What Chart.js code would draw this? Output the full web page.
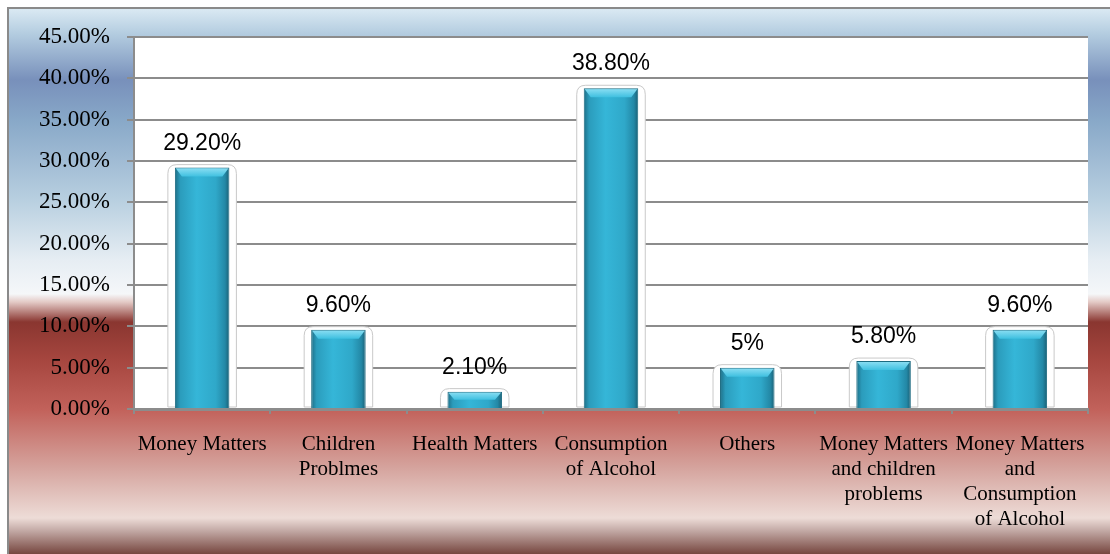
<!DOCTYPE html>
<html>
<head>
<meta charset="utf-8">
<script src="https://cdn.jsdelivr.net/npm/chart.js@4.4.1/dist/chart.umd.min.js"></script>
<style>
html,body{margin:0;padding:0;background:#fff;}
#wrap{width:1110px;height:554px;position:relative;}
</style>
</head>
<body>
<div id="wrap"><canvas id="c" width="1110" height="554"></canvas></div>
<script>
const categories = [
  "Money Matters",
  ["Children", "Problmes"],
  "Health Matters",
  ["Consumption", "of Alcohol"],
  "Others",
  ["Money Matters", "and children", "problems"],
  ["Money Matters", "and", "Consumption", "of Alcohol"]
];
const values = [29.2, 9.6, 2.1, 38.8, 5, 5.8, 9.6];
const valueLabels = ["29.20%", "9.60%", "2.10%", "38.80%", "5%", "5.80%", "9.60%"];
const yTicks = [0, 5, 10, 15, 20, 25, 30, 35, 40, 45];

const bgPlugin = {
  id: 'bg',
  beforeDraw(chart) {
    const ctx = chart.ctx;
    const top = 9, bottom = 554, H = bottom - top;
    const g = ctx.createLinearGradient(0, top, 0, bottom);
    const stops = [
      [10, '#d8e8f2'], [35, '#b2cbdf'], [80, '#7890bb'], [120, '#88a8c8'],
      [200, '#b8cfe0'], [260, '#e6edf3'], [294, '#f5f7f9'], [302, '#e4cac6'],
      [322, '#8a3630'], [360, '#a6463f'], [410, '#c2625b'], [470, '#d6a6a0'],
      [518, '#eddcd7'], [530, '#c5aca8'], [554, '#76463f']
    ];
    stops.forEach(([y, c]) => g.addColorStop(Math.min(1, Math.max(0, (y - top) / H)), c));
    ctx.save();
    ctx.fillStyle = g;
    ctx.fillRect(9, top, 1110 - 9, H);
    ctx.strokeStyle = '#8a8a8a';
    ctx.lineWidth = 2;
    ctx.beginPath();
    ctx.moveTo(8, 554); ctx.lineTo(8, 8); ctx.lineTo(1110, 8);
    ctx.stroke();
    const a = chart.chartArea;
    ctx.fillStyle = '#ffffff';
    ctx.fillRect(a.left, a.top, a.right - a.left, a.bottom - a.top);
    ctx.restore();
  }
};

function roundRectPath(ctx, x, y, w, h, r) {
  ctx.beginPath();
  ctx.moveTo(x + r, y);
  ctx.lineTo(x + w - r, y);
  ctx.quadraticCurveTo(x + w, y, x + w, y + r);
  ctx.lineTo(x + w, y + h);
  ctx.lineTo(x, y + h);
  ctx.lineTo(x, y + r);
  ctx.quadraticCurveTo(x, y, x + r, y);
  ctx.closePath();
}

const haloPlugin = {
  id: 'halo',
  beforeDatasetsDraw(chart) {
    const ctx = chart.ctx;
    const meta = chart.getDatasetMeta(0);
    ctx.save();
    meta.data.forEach(bar => {
      const w = bar.width + 14;
      const x = bar.x - w / 2;
      const y = bar.y - 3;
      const h = bar.base - y - 1;
      roundRectPath(ctx, x, y, w, h, 9);
      ctx.fillStyle = '#ffffff';
      ctx.fill();
      ctx.strokeStyle = '#c9c9c9';
      ctx.lineWidth = 1;
      ctx.stroke();
    });
    ctx.restore();
  },
  afterDatasetsDraw(chart) {
    const ctx = chart.ctx;
    const meta = chart.getDatasetMeta(0);
    ctx.save();
    meta.data.forEach(bar => {
      const l = bar.x - bar.width / 2, r = bar.x + bar.width / 2, t = bar.y;
      const d = Math.min(9, (bar.base - t) / 2);
      const g = ctx.createLinearGradient(0, t, 0, t + d);
      g.addColorStop(0, '#8fe0f4');
      g.addColorStop(1, '#3fc0e0');
      ctx.beginPath();
      ctx.moveTo(l + 1, t + 1); ctx.lineTo(r - 1, t + 1);
      ctx.lineTo(r - 7, t + d); ctx.lineTo(l + 7, t + d);
      ctx.closePath();
      ctx.fillStyle = g;
      ctx.fill();
    });
    ctx.font = '23px "Liberation Sans", Arial, sans-serif';
    ctx.fillStyle = '#000';
    ctx.textAlign = 'center';
    ctx.textBaseline = 'alphabetic';
    meta.data.forEach((bar, i) => {
      ctx.fillText(valueLabels[i], bar.x, bar.y - 18);
    });
    ctx.restore();
  }
};

function barFill(context) {
  const chart = context.chart;
  const xs = chart.scales && chart.scales.x;
  if (!xs || !xs.width) return '#31b0d2';
  const i = context.dataIndex;
  const cx = xs.getPixelForValue(i);
  const w = xs.width / categories.length * 0.4;
  const g = chart.ctx.createLinearGradient(cx - w / 2, 0, cx + w / 2, 0);
  g.addColorStop(0, '#1d6e86');
  g.addColorStop(0.1, '#2b9cbc');
  g.addColorStop(0.4, '#35b6d8');
  g.addColorStop(0.75, '#2fa8c9');
  g.addColorStop(0.92, '#2388a6');
  g.addColorStop(1, '#1a5f74');
  return g;
}

new Chart(document.getElementById('c'), {
  type: 'bar',
  data: {
    labels: categories,
    datasets: [{
      data: values,
      backgroundColor: barFill,
      borderColor: '#1c6a80',
      borderWidth: 1,
      barPercentage: 0.4,
      categoryPercentage: 1.0
    }]
  },
  options: {
    responsive: false,
    animation: false,
    devicePixelRatio: 1,
    layout: { padding: { left: 9, right: 22, top: 37, bottom: 0 } },
    plugins: { legend: { display: false }, tooltip: { enabled: false } },
    scales: {
      y: {
        min: 0, max: 45,
        afterFit(s) { s.width = 125; },
        afterBuildTicks(s) { s.ticks = yTicks.map(v => ({ value: v })); },
        ticks: {
          padding: 17,
          color: '#000',
          font: { family: '"Liberation Serif", "Times New Roman", serif', size: 23 },
          callback: v => v.toFixed(2) + '%'
        },
        grid: { color: '#8c8c8c', lineWidth: 2, tickLength: 7 },
        border: { color: '#8c8c8c', width: 2 }
      },
      x: {
        afterFit(s) { s.height = 145; },
        ticks: {
          padding: 18,
          color: '#000',
          maxRotation: 0, autoSkip: false,
          font: { family: '"Liberation Serif", "Times New Roman", serif', size: 21, lineHeight: 1.19 }
        },
        grid: { display: true, drawOnChartArea: false, drawTicks: true, tickLength: 5, color: '#8c8c8c', lineWidth: 2, offset: true },
        border: { color: '#8c8c8c', width: 3 }
      }
    }
  },
  plugins: [bgPlugin, haloPlugin]
});
</script>
</body>
</html>
